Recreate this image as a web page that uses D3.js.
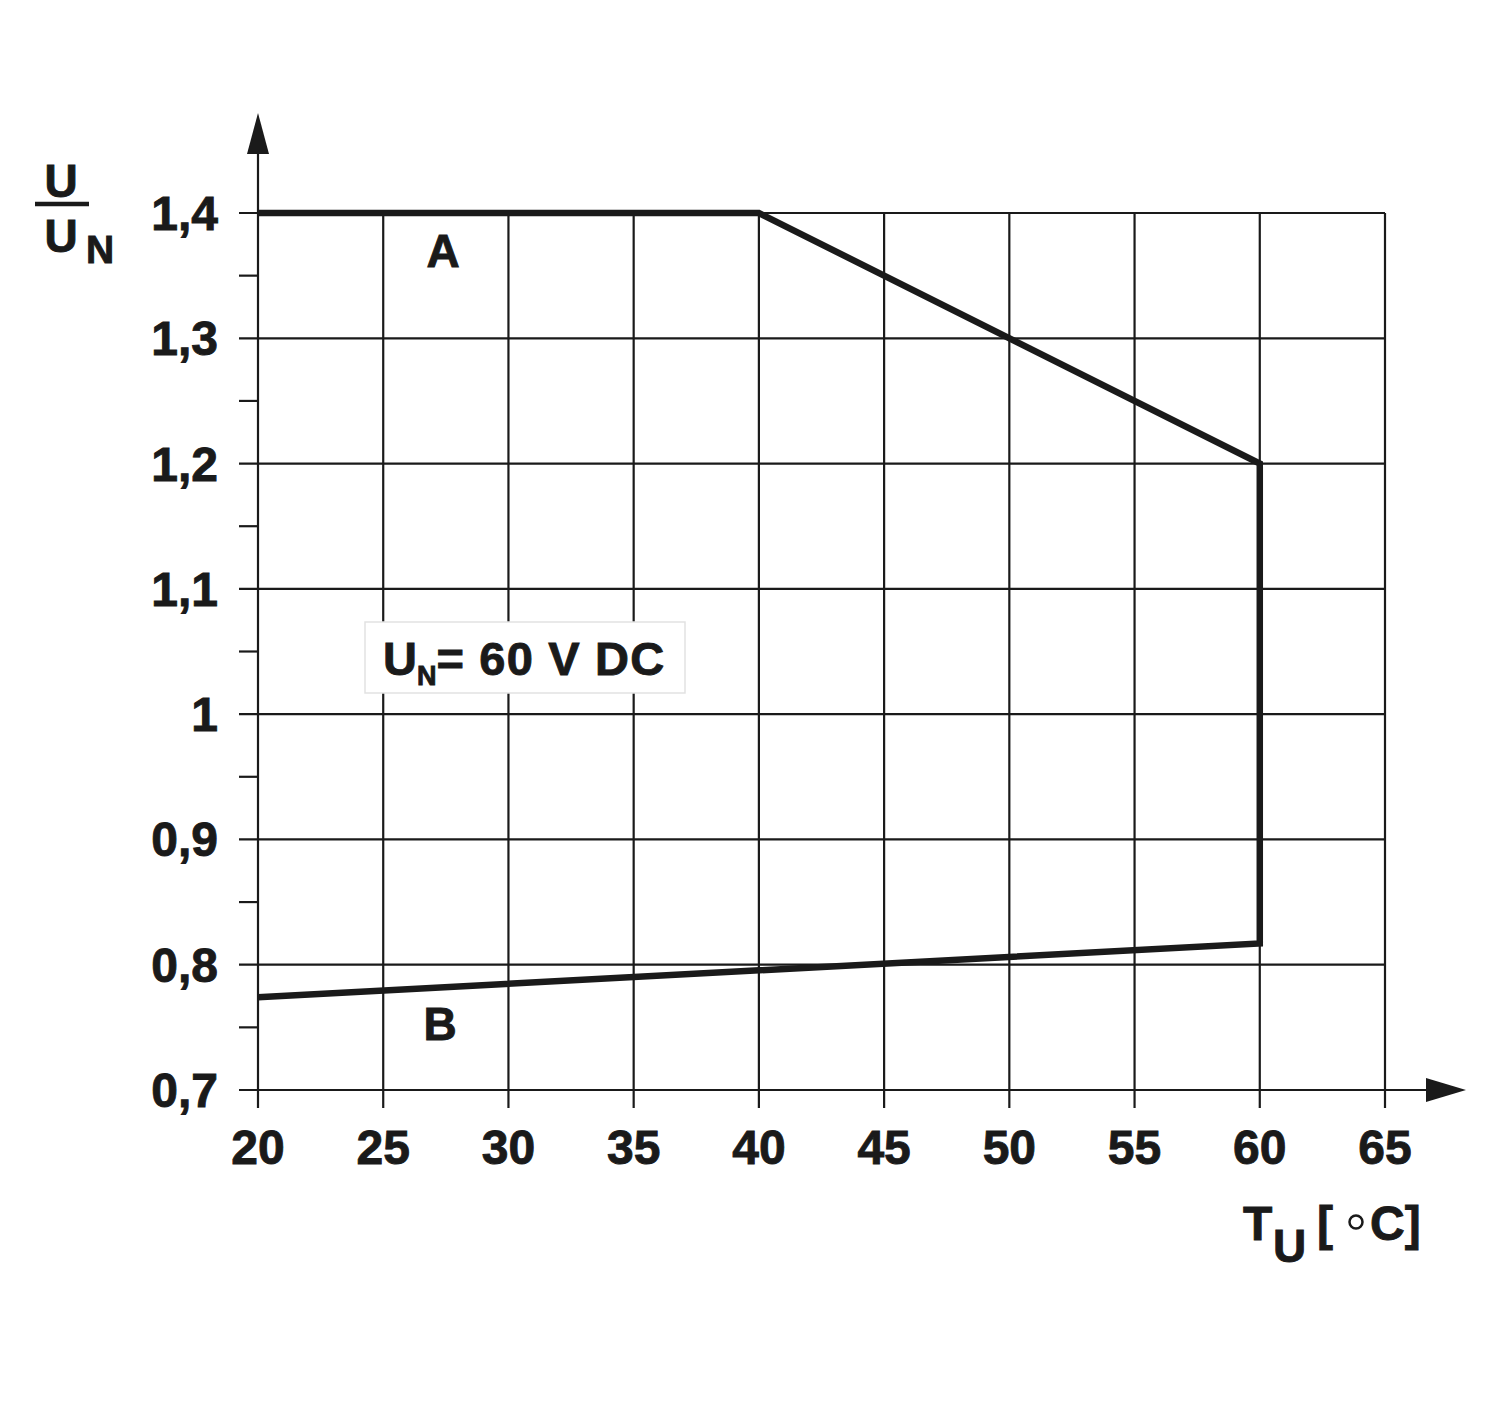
<!DOCTYPE html>
<html><head><meta charset="utf-8">
<script src="https://cdn.jsdelivr.net/npm/d3@7"></script>
<style>body{margin:0;background:#fff}svg{display:block}text{font-family:"Liberation Sans",Arial,sans-serif;font-weight:bold;fill:#1a1a1a;stroke:#1a1a1a;stroke-width:0.9px}</style>
</head><body>
<script>
const xTicks = [20,25,30,35,40,45,50,55,60,65];
const yTicks = [0.7,0.8,0.9,1.0,1.1,1.2,1.3,1.4];
const yTickLabels = ["0,7","0,8","0,9","1","1,1","1,2","1,3","1,4"];
const yMinorTicks = [0.75,0.85,0.95,1.05,1.15,1.25,1.35];
const curveT = [20,40,60,60,20];
const curveU = [1.4,1.4,1.2,0.817,0.774];

const W=1500,H=1406;
const svg=d3.select("body").append("svg").attr("width",W).attr("height",H);
const x=d3.scaleLinear().domain([20,65]).range([258,1385]);
const y=d3.scaleLinear().domain([0.7,1.4]).range([1090,213]);
const ink="#1a1a1a";

// grid
const g=svg.append("g").attr("stroke",ink).attr("stroke-width",2.2);
xTicks.forEach(t=>{
  g.append("line").attr("x1",x(t)).attr("x2",x(t)).attr("y1",t===20?153:y(1.4)).attr("y2",1108);
});
yTicks.forEach(t=>{
  g.append("line").attr("x1",239).attr("x2",t===0.7?1430:x(65)).attr("y1",y(t)).attr("y2",y(t));
});
yMinorTicks.forEach(t=>{
  g.append("line").attr("x1",239).attr("x2",x(20)).attr("y1",y(t)).attr("y2",y(t));
});
// arrows
svg.append("path").attr("d",`M${x(20)},113 L${x(20)-11},154 L${x(20)+11},154 Z`).attr("fill",ink);
svg.append("path").attr("d",`M1466,${y(0.7)} L1426,${y(0.7)-12} L1426,${y(0.7)+12} Z`).attr("fill",ink);

// curve
const pts=curveT.map((t,i)=>[t,curveU[i]]);
svg.append("path").datum(pts)
  .attr("d",d3.line().x(d=>x(d[0])).y(d=>y(d[1])))
  .attr("fill","none").attr("stroke",ink).attr("stroke-width",6.5).attr("stroke-linejoin","miter");

// tick labels
yTicks.forEach((t,i)=>{
  svg.append("text").attr("x",218).attr("y",y(t)+17).attr("text-anchor","end").attr("font-size",48).text(yTickLabels[i]);
});
xTicks.forEach(t=>{
  svg.append("text").attr("x",x(t)).attr("y",1164).attr("text-anchor","middle").attr("font-size",48).text(t);
});

// y axis title
svg.append("text").attr("x",61).attr("y",197).attr("text-anchor","middle").attr("font-size",46).text("U");
svg.append("line").attr("x1",35).attr("x2",89).attr("y1",204).attr("y2",204).attr("stroke",ink).attr("stroke-width",4.5);
svg.append("text").attr("x",61).attr("y",252).attr("text-anchor","middle").attr("font-size",46).text("U");
svg.append("text").attr("x",86).attr("y",263).attr("font-size",39).text("N");

// x axis title
svg.append("text").attr("x",1243).attr("y",1240).attr("font-size",48).text("T");
svg.append("text").attr("x",1273).attr("y",1262).attr("font-size",46).text("U");
svg.append("text").attr("x",1317).attr("y",1240).attr("font-size",48).text("[");
svg.append("circle").attr("cx",1356).attr("cy",1222).attr("r",6.5).attr("fill","none").attr("stroke",ink).attr("stroke-width",2.5);
svg.append("text").attr("x",1370).attr("y",1240).attr("font-size",48).text("C]");

// curve labels
svg.append("text").attr("x",443).attr("y",267).attr("text-anchor","middle").attr("font-size",46).text("A");
svg.append("text").attr("x",440).attr("y",1040).attr("text-anchor","middle").attr("font-size",46).text("B");

// legend box
svg.append("rect").attr("x",365).attr("y",622).attr("width",320).attr("height",71).attr("fill","#fff").attr("stroke","#e2e2e2").attr("stroke-width",1.5);
const lt=svg.append("text").attr("x",383).attr("y",675).attr("font-size",47);
lt.append("tspan").text("U");
lt.append("tspan").attr("font-size",27).attr("dy",10).text("N");
lt.append("tspan").attr("dy",-10).attr("letter-spacing",1.2).text("= 60 V DC");
</script>
</body></html>
